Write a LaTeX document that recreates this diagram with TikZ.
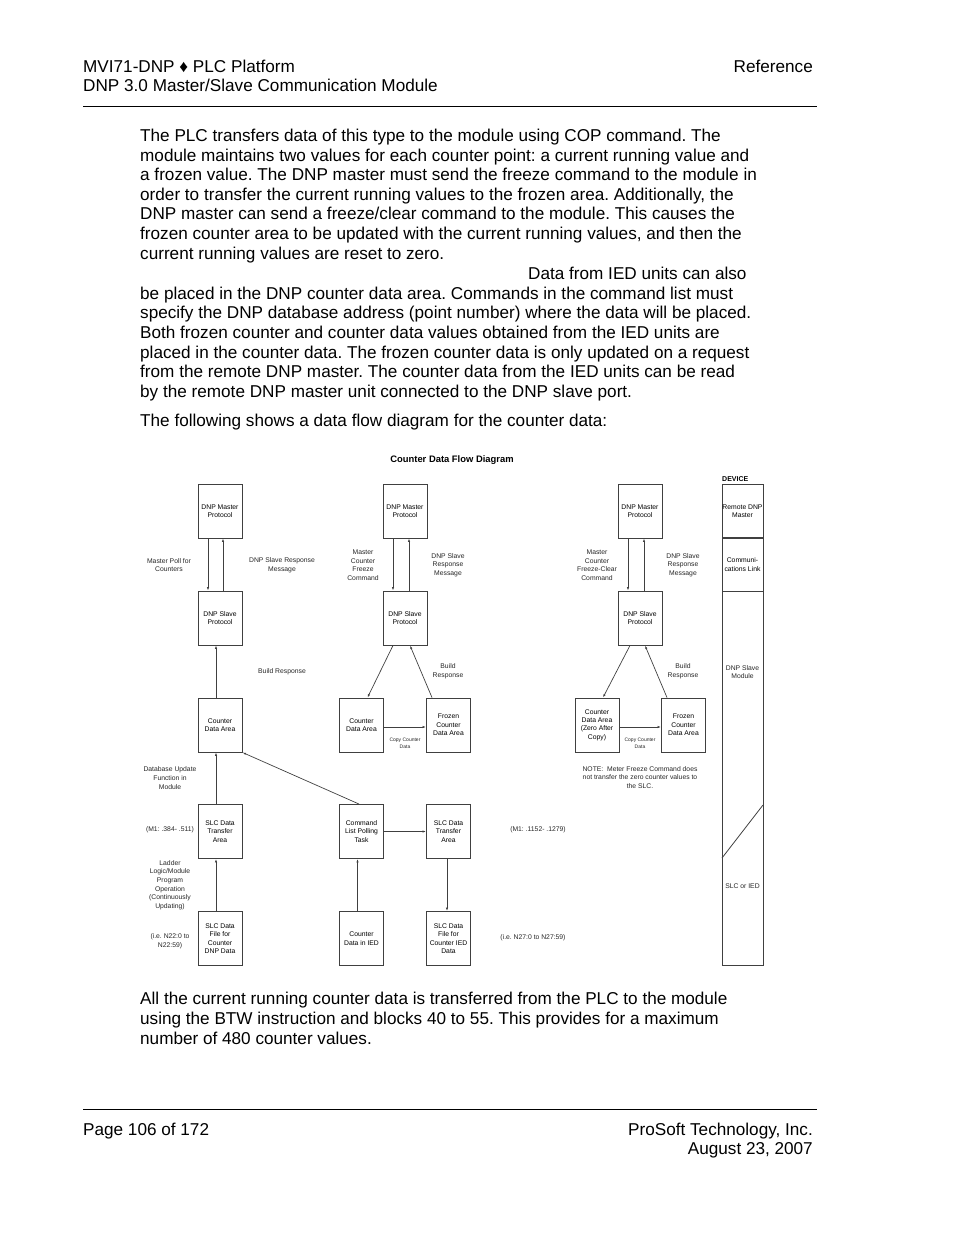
\documentclass[tikz,border=0pt]{standalone}
\usepackage{fontspec}
\setmainfont{Liberation Sans}
\usetikzlibrary{arrows.meta}
\frenchspacing
\tikzset{
  body/.style={anchor=base west, inner sep=0, font=\fontsize{17.15}{19.6}\selectfont},
  box/.style={draw=black!75, line width=0.9, minimum width=44, minimum height=54, inner sep=0, align=center, font=\fontsize{6.8}{8.4}\selectfont},
  lbl/.style={align=center, inner sep=0, font=\fontsize{6.8}{8.6}\selectfont, text=black!85},
  tiny/.style={align=center, inner sep=0, font=\fontsize{5}{7}\selectfont, text=black!85},
  arr/.style={draw=black!75, line width=0.7, -{Latex[length=3.5,width=2.4]}},
}
\begin{document}
\begin{tikzpicture}[x=1pt, y=-1pt]
\useasboundingbox (0,0) rectangle (954,1235);
% page header
\node[body] (h1) at (83,72) {MVI71-DNP ♦ PLC Platform};
\node[body] (h2) at (83,91) {DNP 3.0 Master/Slave Communication Module};
\node[body, anchor=base east] (h3) at (813,72) {Reference};
\coordinate (hl) at (83,106); \coordinate (hr) at (817,106);
\draw[line width=0.8] (hl) -- (hr);
% text above the diagram
\node[body] (p1) at (140,141) {The PLC transfers data of this type to the module using COP command. The};
\node[body] (p2) at (140,161) {module maintains two values for each counter point: a current running value and};
\node[body] (p3) at (140,180) {a frozen value. The DNP master must send the freeze command to the module in};
\node[body] (p4) at (140,200) {order to transfer the current running values to the frozen area. Additionally, the};
\node[body] (p5) at (140,219) {DNP master can send a freeze/clear command to the module. This causes the};
\node[body] (p6) at (140,239) {frozen counter area to be updated with the current running values, and then the};
\node[body] (p7) at (140,259) {current running values are reset to zero.};
\node[body] (p8) at (528,279) {Data from IED units can also};
\node[body] (p9) at (140,299) {be placed in the DNP counter data area. Commands in the command list must};
\node[body] (p10) at (140,318) {specify the DNP database address (point number) where the data will be placed.};
\node[body] (p11) at (140,338) {Both frozen counter and counter data values obtained from the IED units are};
\node[body] (p12) at (140,358) {placed in the counter data. The frozen counter data is only updated on a request};
\node[body] (p13) at (140,377) {from the remote DNP master. The counter data from the IED units can be read};
\node[body] (p14) at (140,397) {by the remote DNP master unit connected to the DNP slave port.};
\node[body] (p15) at (140,426) {The following shows a data flow diagram for the counter data:};
% diagram
\node[font=\bfseries\fontsize{9.4}{11}\selectfont] (title) at (452,460) {Counter Data Flow Diagram};
% column 1
\node[box] (m1) at (220,511) {DNP Master\\Protocol};
\node[box] (s1) at (220,618) {DNP Slave\\Protocol};
\node[box] (a1) at (220,725) {Counter\\Data Area};
\node[box] (t1) at (220,831.5) {SLC Data\\Transfer\\Area};
\node[box] (f1) at (220,938.5) {SLC Data\\File for\\Counter\\DNP Data};
\draw[arr] ([xshift=-12]m1.south) -- ([xshift=-12]s1.north);
\draw[arr] ([xshift=3]s1.north) -- ([xshift=3]m1.south);
\draw[arr] ([xshift=-4]a1.north) -- ([xshift=-4]s1.south);
\draw[arr] ([xshift=-4]t1.north) -- ([xshift=-4]a1.south);
\draw[arr] ([xshift=-4]f1.north) -- ([xshift=-4]t1.south);
\node[lbl] (l1) at (169,565) {Master Poll for\\Counters};
\node[lbl] (l2) at (282,565) {DNP Slave Response\\Message};
\node[lbl] (l3) at (282,672) {Build Response};
\node[lbl] (l4) at (170,778) {Database Update\\Function in\\Module};
\node[lbl] (l5) at (170,830) {(M1: .384- .511)};
\node[lbl] (l6) at (170,885) {Ladder\\Logic/Module\\Program\\Operation\\(Continuously\\Updating)};
\node[lbl] (l7) at (170,941) {(i.e. N22:0 to\\N22:59)};
% column 2
\node[box] (m2) at (405,511) {DNP Master\\Protocol};
\node[box] (s2) at (405,618) {DNP Slave\\Protocol};
\node[box] (ca2) at (361.5,725) {Counter\\Data Area};
\node[box] (fz2) at (448.5,725) {Frozen\\Counter\\Data Area};
\node[box] (cl) at (361.5,831.5) {Command\\List Polling\\Task};
\node[box] (st2) at (448.5,831.5) {SLC Data\\Transfer\\Area};
\node[box] (ci) at (361.5,938.5) {Counter\\Data in IED};
\node[box] (sf2) at (448.5,938.5) {SLC Data\\File for\\Counter IED\\Data};
\draw[arr] ([xshift=-12]m2.south) -- ([xshift=-12]s2.north);
\draw[arr] ([xshift=4]s2.north) -- ([xshift=4]m2.south);
\draw[arr] ([xshift=-12]s2.south) -- ([xshift=6]ca2.north);
\draw[arr] ([xshift=-16.5]fz2.north) -- ([xshift=5]s2.south);
\draw[arr] ([yshift=-2]ca2.east) -- ([yshift=-2]fz2.west);
\draw[arr] ([xshift=20]cl.north west) -- (a1.south east);
\draw[arr] (cl.east) -- (st2.west);
\draw[arr] ([xshift=-4]ci.north) -- ([xshift=-4]cl.south);
\draw[arr] ([xshift=-1.5]st2.south) -- ([xshift=-1.5]sf2.north);
\node[lbl] (l8) at (363,565) {Master\\Counter\\Freeze\\Command};
\node[lbl] (l9) at (448,565) {DNP Slave\\Response\\Message};
\node[lbl] (l10) at (448,671.5) {Build\\Response};
\node[tiny] (l11) at (405,743.5) {Copy Counter\\Data};
\node[lbl] (l12) at (538,830) {(M1: .1152- .1279)};
\node[lbl] (l13) at (533,938) {(i.e. N27:0 to N27:59)};
% column 3
\node[box] (m3) at (640,511) {DNP Master\\Protocol};
\node[box] (s3) at (640,618) {DNP Slave\\Protocol};
\node[box] (ca3) at (597,725) {Counter\\Data Area\\(Zero After\\Copy)};
\node[box] (fz3) at (683.5,725) {Frozen\\Counter\\Data Area};
\draw[arr] ([xshift=-12]m3.south) -- ([xshift=-12]s3.north);
\draw[arr] ([xshift=4]s3.north) -- ([xshift=4]m3.south);
\draw[arr] ([xshift=-10]s3.south) -- ([xshift=6]ca3.north);
\draw[arr] ([xshift=-16.5]fz3.north) -- ([xshift=5]s3.south);
\draw[arr] ([yshift=-2]ca3.east) -- ([yshift=-2]fz3.west);
\node[lbl] (l14) at (597,565) {Master\\Counter\\Freeze-Clear\\Command};
\node[lbl] (l15) at (683,565) {DNP Slave\\Response\\Message};
\node[lbl] (l16) at (683,671.5) {Build\\Response};
\node[tiny] (l17) at (640,743.5) {Copy Counter\\Data};
\node[lbl] (l18) at (640,777.5) {NOTE:~ Meter Freeze Command does\\not transfer the zero counter values to\\the SLC.};
% device column
\node[font=\bfseries\fontsize{7}{8}\selectfont, anchor=west, inner sep=0] (dev) at (722,479) {DEVICE};
\node[box, minimum width=41, minimum height=53.5] (rm) at (742.5,511) {Remote DNP\\Master};
\node[box, minimum width=41, minimum height=53] (cm) at (742.5,564.5) {Communi-\\cations Link};
\node[box, minimum width=41, minimum height=374] (md) at (742.5,778) {};
\coordinate (dg1) at (722,858); \coordinate (dg2) at (763,805);
\draw[draw=black!75, line width=0.8] (dg1) -- (dg2);
\node[lbl] (l19) at (742.5,672) {DNP Slave\\Module};
\node[lbl] (l20) at (742.5,886) {SLC or IED};
% text below the diagram
\node[body] (q1) at (140,1004) {All the current running counter data is transferred from the PLC to the module};
\node[body] (q2) at (140,1024) {using the BTW instruction and blocks 40 to 55. This provides for a maximum};
\node[body] (q3) at (140,1044) {number of 480 counter values.};
% page footer
\coordinate (fl) at (83,1109); \coordinate (fr) at (817,1109);
\draw[line width=0.8] (fl) -- (fr);
\node[body] (ft1) at (83,1135) {Page 106 of 172};
\node[body, anchor=base east] (ft2) at (813,1135) {ProSoft Technology, Inc.};
\node[body, anchor=base east] (ft3) at (813,1154) {August 23, 2007};
\end{tikzpicture}
\end{document}
